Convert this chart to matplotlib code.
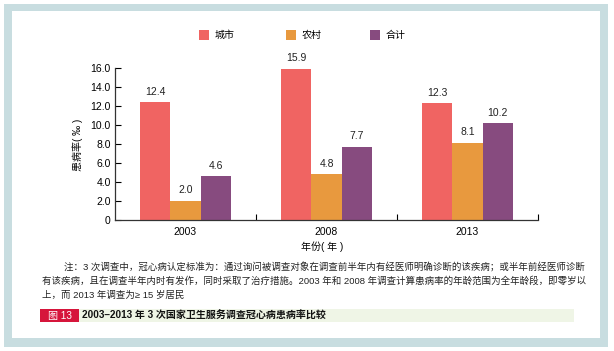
import matplotlib.pyplot as plt
import numpy as np
from matplotlib.patches import Rectangle

plt.rcParams['font.family'] = ['Liberation Sans', 'Noto Sans CJK SC', 'DejaVu Sans']

years = ["2003", "2008", "2013"]
series_names = ["城市", "农村", "合计"]
city = [12.4, 15.9, 12.3]
rural = [2.0, 4.8, 8.1]
total = [4.6, 7.7, 10.2]
colors = ['#f06462', '#e8993e', '#874b7f']

note_lines = [
    "注：3 次调查中，冠心病认定标准为：通过询问被调查对象在调查前半年内有经医师明确诊断的该疾病；或半年前经医师诊断",
    "有该疾病，且在调查半年内时有发作，同时采取了治疗措施。2003 年和 2008 年调查计算患病率的年龄范围为全年龄段，即零岁以",
    "上，而 2013 年调查为≥ 15 岁居民",
]
fig_no = "图 13"
caption = "2003–2013 年 3 次国家卫生服务调查冠心病患病率比较"

W, H = 614, 351
fig = plt.figure(figsize=(W / 100, H / 100), dpi=100)


def fx(px):
    return px / W


def fy(py):
    return 1 - py / H


# frame
fig.patches.append(Rectangle((fx(4), fy(347)), fx(604), 343 / H, transform=fig.transFigure,
                             facecolor='#c8dde0', edgecolor='none', zorder=-2))
fig.patches.append(Rectangle((fx(12), fy(338)), fx(588), 327 / H, transform=fig.transFigure,
                             facecolor='white', edgecolor='none', zorder=-1))

ax = fig.add_axes([fx(115), fy(220), fx(538 - 115), (220 - 68) / H])
ax.set_facecolor('none')
ax.set_zorder(3)

x = np.arange(len(years))
w = 0.213
for i, (vals, name) in enumerate(zip([city, rural, total], series_names)):
    pos = x + (i - 1) * w
    ax.bar(pos, vals, width=w, color=colors[i], label=name, zorder=2)
    for px, v in zip(pos, vals):
        ax.annotate(f"{v:.1f}", (px, v), xytext=(0, 4), textcoords='offset points',
                    ha='center', va='bottom', fontsize=7.5, color='#222222')

ax.set_xlim(-0.5, 2.5)
ax.set_ylim(0, 16)
ax.set_yticks(np.arange(0, 17, 2))
ax.set_yticklabels(["0"] + [f"{v:.1f}" for v in np.arange(2, 17, 2)], fontsize=7.5)
ax.set_xticks([0.5, 1.5, 2.5])
ax.set_xticklabels([])
ax.set_xticks(x, minor=True)
ax.set_xticklabels(years, minor=True, fontsize=7.5)
ax.tick_params(axis='x', which='minor', length=0, pad=5)
ax.tick_params(axis='x', which='major', direction='in', length=4, width=0.8)
ax.tick_params(axis='y', direction='in', length=4, width=0.8, pad=3)
for s in ['top', 'right']:
    ax.spines[s].set_visible(False)
for s in ['left', 'bottom']:
    ax.spines[s].set_linewidth(0.9)
    ax.spines[s].set_color('#333333')

fig.text(fx(322), fy(247), "年份( 年 )", ha='center', va='center', fontsize=7.2)
fig.text(fx(78), fy(145), "患病率( ‰ )", ha='center', va='center', fontsize=7.2, rotation=90)

# legend
leg_x = [199, 286, 370]
for lx, name, c in zip(leg_x, series_names, colors):
    fig.patches.append(Rectangle((fx(lx), fy(40)), fx(10), 10 / H, transform=fig.transFigure,
                                 facecolor=c, edgecolor='none'))
    fig.text(fx(lx + 16), fy(35), name, ha='left', va='center', fontsize=7.2)

# note
fig.text(fx(64), fy(268), note_lines[0], ha='left', va='center', fontsize=6.8, color='#222222')
fig.text(fx(42), fy(281.5), note_lines[1], ha='left', va='center', fontsize=6.8, color='#222222')
fig.text(fx(42), fy(295), note_lines[2], ha='left', va='center', fontsize=6.8, color='#222222')

# caption
fig.patches.append(Rectangle((fx(40), fy(322)), fx(39), 13 / H, transform=fig.transFigure,
                             facecolor='#d6153b', edgecolor='none'))
fig.patches.append(Rectangle((fx(79), fy(322)), fx(495), 13 / H, transform=fig.transFigure,
                             facecolor='#eff5e6', edgecolor='none'))
fig.text(fx(60), fy(315.5), fig_no, ha='center', va='center', fontsize=7.2, color='white')
fig.text(fx(82), fy(315.5), caption, ha='left', va='center', fontsize=7.2, color='#111111',
         fontweight='bold')

fig.savefig("out.png", dpi=100)
